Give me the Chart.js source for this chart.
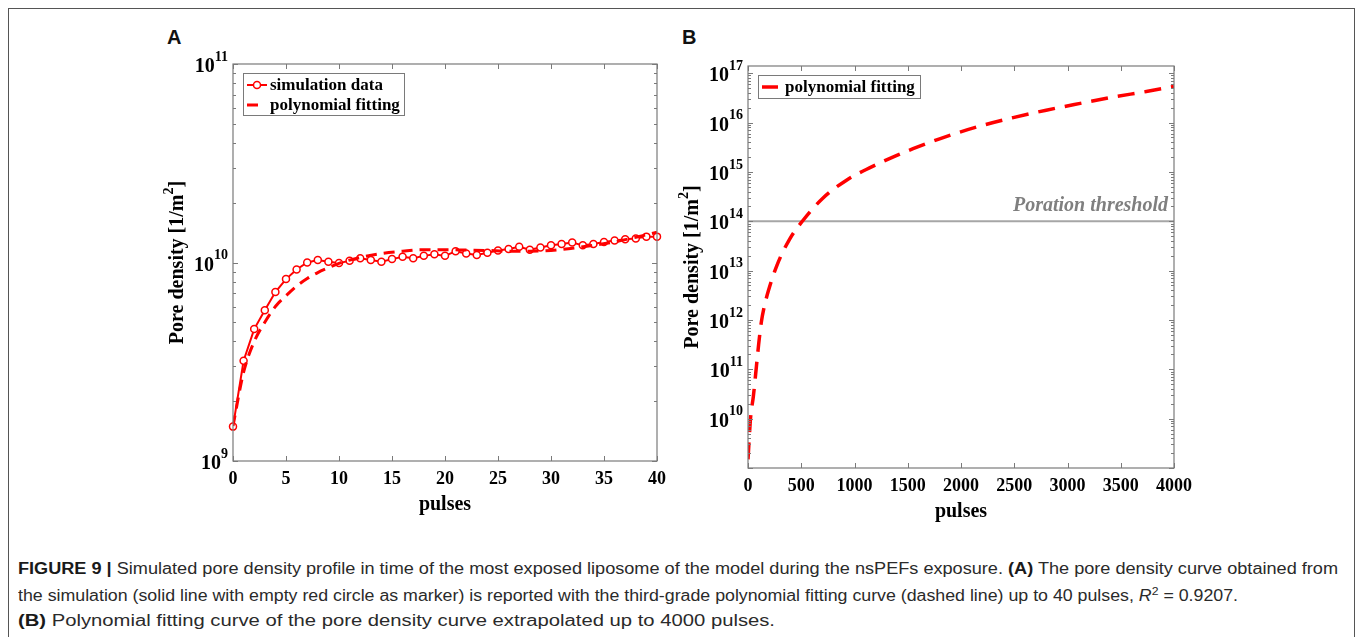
<!DOCTYPE html>
<html><head><meta charset="utf-8">
<script src="https://cdn.jsdelivr.net/npm/chart.js@4/dist/chart.umd.min.js"></script>
<style>
html,body{margin:0;padding:0;background:#fff;width:1358px;height:637px;overflow:hidden;}
#frame{position:absolute;left:8px;top:8px;width:1347px;height:700px;border:1.5px solid #555;box-sizing:border-box;}
canvas{position:absolute;}
#cA{left:150px;top:20px;}
#cB{left:670px;top:20px;}
.panel{position:absolute;font-family:"Liberation Sans",Arial,sans-serif;font-weight:bold;font-size:20px;line-height:20px;color:#111;}
.cap{position:absolute;left:18px;font-family:"Liberation Sans Narrow","Liberation Sans",Arial,sans-serif;font-size:16px;line-height:20px;color:#2a2a2a;white-space:nowrap;transform-origin:0 50%;}
.cap b{color:#1a1a1a;}
</style></head><body>
<div id="frame"></div>
<div class="panel" style="left:167px;top:27px;">A</div>
<div class="panel" style="left:682px;top:27px;">B</div>
<canvas id="cA" width="530" height="510"></canvas>
<canvas id="cB" width="530" height="510"></canvas>
<div class="cap" id="l1" data-w="1320" style="top:559px;"><b>FIGURE 9 |</b> Simulated pore density profile in time of the most exposed liposome of the model during the nsPEFs exposure. <b>(A)</b> The pore density curve obtained from</div>
<div class="cap" id="l2" data-w="1220" style="top:586px;">the simulation (solid line with empty red circle as marker) is reported with the third-grade polynomial fitting curve (dashed line) up to 40 pulses, <i>R</i><sup style="font-size:11px;line-height:0;">2</sup> = 0.9207.</div>
<div class="cap" id="l3" data-w="757" style="top:611px;"><b>(B)</b> Polynomial fitting curve of the pore density curve extrapolated up to 4000 pulses.</div>
<script>
// ---------- data ----------
const pulsesA = [0,1,2,3,4,5,6,7,8,9,10,11,12,13,14,15,16,17,18,19,20,21,22,23,24,25,26,27,28,29,30,31,32,33,34,35,36,37,38,39,40];
const simDensityA = [1.49e9,3.2e9,4.62e9,5.75e9,7.1e9,8.25e9,9.22e9,1.0e10,1.03e10,1.01e10,9.93e9,1.02e10,1.05e10,1.03e10,1.01e10,1.04e10,1.07e10,1.05e10,1.08e10,1.1e10,1.08e10,1.14e10,1.11e10,1.09e10,1.12e10,1.15e10,1.17e10,1.2e10,1.16e10,1.19e10,1.22e10,1.24e10,1.26e10,1.22e10,1.24e10,1.27e10,1.29e10,1.31e10,1.32e10,1.35e10,1.35e10];
const fitPulsesA = [0,1,2,3,4,5,6,7,8,9,10,12,14,16,18,20,22,24,26,28,30,32,34,36,38,40];
const fitDensityA = [1.5e9,2.8e9,4.0e9,5.0e9,6.0e9,6.8e9,7.6e9,8.3e9,8.9e9,9.4e9,9.9e9,1.06e10,1.11e10,1.14e10,1.16e10,1.16e10,1.155e10,1.15e10,1.14e10,1.14e10,1.15e10,1.18e10,1.22e10,1.27e10,1.34e10,1.42e10];
const fitPulsesB = [0,25,50,80,100,125,150,190,270,390,510,700,925,1110,1360,1550,1860,2180,2490,2800,3120,3430,3740,4000];
const fitDensityB = [1.5e9,1.1e10,2.8e10,1.2e11,3.2e11,9.0e11,1.75e12,3.8e12,1.25e13,4.3e13,1.0e14,2.9e14,6.8e14,1.12e15,2.0e15,2.95e15,5.2e15,8.5e15,1.26e16,1.78e16,2.45e16,3.3e16,4.25e16,5.4e16];
const thresholdB = 1e14;
const xTicksA = [0,5,10,15,20,25,30,35,40];
const yExpA = [9,10,11];
const xTicksB = [0,500,1000,1500,2000,2500,3000,3500,4000];
const yExpB = [10,11,12,13,14,15,16,17];

const SERIF = '"Liberation Serif","Times New Roman",serif';
const RED = '#ff0000';

function drawAxes(chart, cfg) {
  const ctx = chart.ctx, a = chart.chartArea, xs = chart.scales.x, ys = chart.scales.y;
  ctx.save();
  ctx.strokeStyle = '#7a7a7a'; ctx.lineWidth = 1.2;
  ctx.strokeRect(a.left, a.top, a.right - a.left, a.bottom - a.top);
  ctx.lineWidth = 1;
  cfg.xTicks.forEach(v => {
    const px = Math.round(xs.getPixelForValue(v)) + 0.5;
    ctx.beginPath();
    ctx.moveTo(px, a.bottom); ctx.lineTo(px, a.bottom - 5);
    ctx.moveTo(px, a.top); ctx.lineTo(px, a.top + 5);
    ctx.stroke();
  });
  const lo = Math.floor(Math.log10(ys.min)), hi = Math.ceil(Math.log10(ys.max));
  for (let d = lo; d <= hi; d++) {
    for (let k = 1; k <= 9; k++) {
      const v = k * Math.pow(10, d);
      if (v < ys.min * 0.999 || v > ys.max * 1.001) continue;
      const py = Math.round(ys.getPixelForValue(v)) + 0.5;
      const len = k === 1 ? 5 : 3;
      ctx.beginPath();
      ctx.moveTo(a.left, py); ctx.lineTo(a.left + len, py);
      ctx.moveTo(a.right, py); ctx.lineTo(a.right - len, py);
      ctx.stroke();
    }
  }
  ctx.fillStyle = '#000';
  ctx.font = 'bold 18px ' + SERIF;
  ctx.textAlign = 'center'; ctx.textBaseline = 'middle';
  cfg.xTicks.forEach(v => ctx.fillText(String(v), xs.getPixelForValue(v), a.bottom + 18));
  cfg.yExp.forEach(e => {
    const py = ys.getPixelForValue(Math.pow(10, e));
    ctx.font = 'bold 20px ' + SERIF;
    const wb = ctx.measureText('10').width;
    ctx.font = 'bold 14px ' + SERIF;
    const we = ctx.measureText(String(e)).width;
    const x0 = a.left - 5 - wb - we;
    ctx.textAlign = 'left';
    ctx.font = 'bold 20px ' + SERIF;
    ctx.fillText('10', x0, py + 3);
    ctx.font = 'bold 14px ' + SERIF;
    ctx.fillText(String(e), x0 + wb, py - 7);
  });
  ctx.textAlign = 'center';
  ctx.font = 'bold 20px ' + SERIF;
  ctx.fillText('pulses', (a.left + a.right) / 2, a.bottom + 44);
  ctx.save();
  ctx.translate(a.left - 55, (a.top + a.bottom) / 2);
  ctx.rotate(-Math.PI / 2);
  ctx.font = 'bold 20px ' + SERIF;
  const p1 = 'Pore density [1/m', p3 = ']';
  const w1 = ctx.measureText(p1).width, w3 = ctx.measureText(p3).width;
  ctx.font = 'bold 14px ' + SERIF;
  const w2 = ctx.measureText('2').width;
  let x = -(w1 + w2 + w3) / 2;
  ctx.textAlign = 'left';
  ctx.font = 'bold 20px ' + SERIF; ctx.fillText(p1, x, 0); x += w1;
  ctx.font = 'bold 14px ' + SERIF; ctx.fillText('2', x, -9); x += w2;
  ctx.font = 'bold 20px ' + SERIF; ctx.fillText(p3, x, 0);
  ctx.restore();
  const L = cfg.legend;
  const bx = a.left + L.dx, by = a.top + L.dy;
  ctx.fillStyle = '#fff';
  ctx.fillRect(bx, by, L.w, L.h);
  ctx.strokeStyle = '#7a7a7a'; ctx.lineWidth = 1;
  ctx.strokeRect(bx + 0.5, by + 0.5, L.w, L.h);
  L.items.forEach((it, i) => {
    const cy = by + L.rowY[i];
    ctx.strokeStyle = RED;
    if (it.type === 'marker') {
      ctx.lineWidth = 2; ctx.setLineDash([]);
      ctx.beginPath(); ctx.moveTo(bx + 4, cy); ctx.lineTo(bx + 24, cy); ctx.stroke();
      ctx.fillStyle = '#fff'; ctx.lineWidth = 1.5;
      ctx.beginPath(); ctx.arc(bx + 14, cy, 3.5, 0, Math.PI * 2); ctx.fill(); ctx.stroke();
    } else {
      ctx.lineWidth = it.lw; ctx.setLineDash([]);
      ctx.beginPath(); ctx.moveTo(bx + it.x0, cy); ctx.lineTo(bx + it.x1, cy); ctx.stroke();
    }
    ctx.fillStyle = '#000';
    ctx.font = 'bold 17px ' + SERIF;
    ctx.textAlign = 'left'; ctx.textBaseline = 'middle';
    ctx.fillText(it.label, bx + L.textX, cy + 1);
  });
  if (cfg.extra) cfg.extra(ctx, a, xs, ys);
  ctx.restore();
}

const axesPlugin = { id: 'axesPlugin', afterDraw(chart, args, opts) { drawAxes(chart, opts); } };

function baseOptions(xmin, xmax, ymin, ymax, pad, yw, xh) {
  return {
    responsive: false, animation: false, devicePixelRatio: 1,
    layout: { padding: pad },
    plugins: { legend: { display: false }, tooltip: { enabled: false } },
    scales: {
      x: { type: 'linear', min: xmin, max: xmax, grid: { display: false }, border: { display: false },
           ticks: { display: false }, afterFit: s => { s.height = xh; } },
      y: { type: 'logarithmic', min: ymin, max: ymax, grid: { display: false }, border: { display: false },
           ticks: { display: false }, afterFit: s => { s.width = yw; } }
    }
  };
}

const optA = baseOptions(0, 40, 1e9, 1e11, { left: 0, top: 44, right: 23, bottom: 0 }, 83, 69);
optA.plugins.axesPlugin = {
  xTicks: xTicksA, yExp: yExpA,
  legend: { dx: 10, dy: 9, w: 161, h: 42, textX: 27, rowY: [12, 32],
    items: [ { type: 'marker', label: 'simulation data' },
             { type: 'dash', label: 'polynomial fitting', x0: 4, x1: 15, lw: 3 } ] }
};
new Chart(document.getElementById('cA'), {
  type: 'line',
  data: { datasets: [
    { label: 'polynomial fitting', data: fitPulsesA.map((x, i) => ({ x, y: fitDensityA[i] })),
      borderColor: RED, borderWidth: 3, borderDash: [11, 7], pointRadius: 0, cubicInterpolationMode: 'monotone', fill: false, order: 0 },
    { label: 'simulation data', data: pulsesA.map((x, i) => ({ x, y: simDensityA[i] })),
      borderColor: RED, borderWidth: 2, pointRadius: 3.5, pointBorderWidth: 1.5, pointBackgroundColor: '#fff', pointBorderColor: RED,
      tension: 0, fill: false, clip: false, order: 1 }
  ] },
  options: optA,
  plugins: [axesPlugin]
});

const optB = baseOptions(0, 4000, 1e9, 1.4e17, { left: 0, top: 46, right: 26, bottom: 0 }, 78, 62);
optB.plugins.axesPlugin = {
  xTicks: xTicksB, yExp: yExpB,
  legend: { dx: 10, dy: 9, w: 162, h: 23, textX: 27, rowY: [12],
    items: [ { type: 'dash', label: 'polynomial fitting', x0: 4, x1: 20, lw: 3.5 } ] },
  extra(ctx, a, xs, ys) {
    ctx.fillStyle = '#7f7f7f';
    ctx.font = 'italic bold 20px ' + SERIF;
    ctx.textAlign = 'right'; ctx.textBaseline = 'middle';
    ctx.fillText('Poration threshold', a.right - 6, ys.getPixelForValue(thresholdB) - 15);
  }
};
new Chart(document.getElementById('cB'), {
  type: 'line',
  data: { datasets: [
    { label: 'Poration threshold', data: [{ x: 0, y: thresholdB }, { x: 4000, y: thresholdB }],
      borderColor: '#a6a6a6', borderWidth: 2, pointRadius: 0, fill: false, order: 1 },
    { label: 'polynomial fitting', data: fitPulsesB.map((x, i) => ({ x, y: fitDensityB[i] })),
      borderColor: RED, borderWidth: 3.5, borderDash: [17, 10], pointRadius: 0, cubicInterpolationMode: 'monotone', fill: false, order: 0 }
  ] },
  options: optB,
  plugins: [axesPlugin]
});

document.querySelectorAll('.cap').forEach(el => {
  const w = el.getBoundingClientRect().width;
  const target = +el.dataset.w;
  el.style.transform = 'scaleX(' + (target / w) + ')';
});
</script>
</body></html>
